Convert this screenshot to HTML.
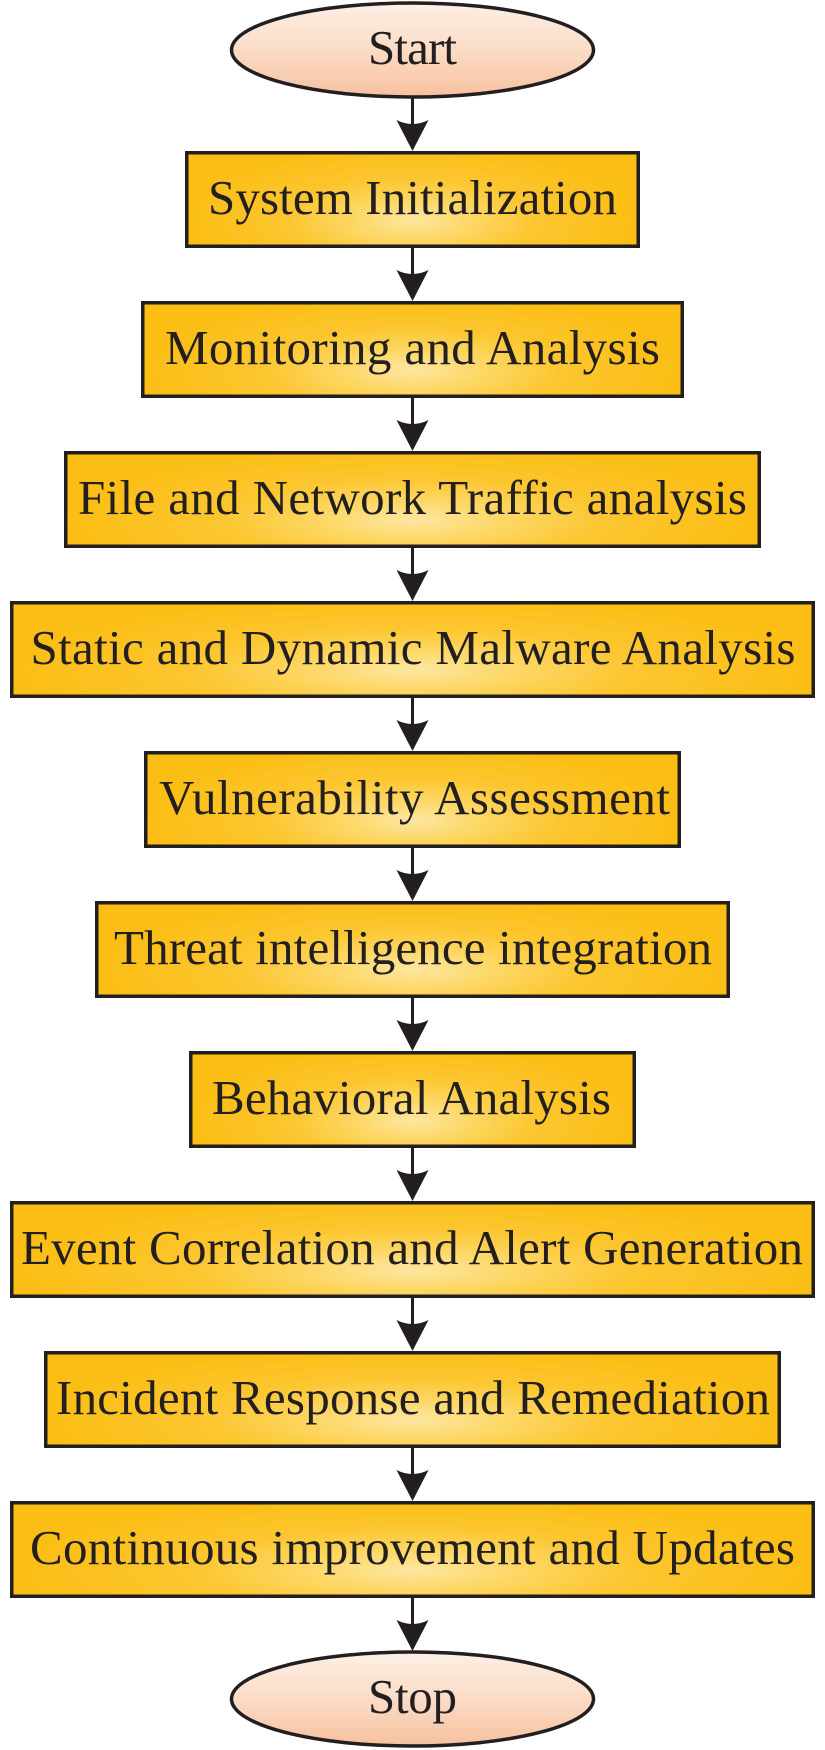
<!DOCTYPE html>
<html>
<head>
<meta charset="utf-8">
<style>
  html,body{margin:0;padding:0;background:#fff;}
  svg{display:block;}
  text{font-family:"Liberation Serif","Times New Roman",serif;font-size:49px;fill:#231f20;}
</style>
</head>
<body>
<svg width="825" height="1750" viewBox="0 0 825 1750" xmlns="http://www.w3.org/2000/svg">
  <defs>
    <radialGradient id="box" cx="0.5" cy="0.72" r="0.5" fx="0.5" fy="0.72" gradientTransform="matrix(1 0 0 1.6 0 -0.432)">
      <stop offset="0" stop-color="#fde6a2"/>
      <stop offset="0.25" stop-color="#fdd868"/>
      <stop offset="0.55" stop-color="#fcc630"/>
      <stop offset="1" stop-color="#fbbe14"/>
    </radialGradient>
    <linearGradient id="ell" x1="0" y1="0" x2="0" y2="1">
      <stop offset="0" stop-color="#fdefe6"/>
      <stop offset="0.5" stop-color="#fbdcc6"/>
      <stop offset="1" stop-color="#f6c19f"/>
    </linearGradient>
  </defs>

  <!-- Start -->
  <ellipse cx="412.5" cy="50" rx="181" ry="47" fill="url(#ell)" stroke="#231f20" stroke-width="3.5"/>
  <text x="412.5" y="64" text-anchor="middle" textLength="89" lengthAdjust="spacing">Start</text>

  <!-- Boxes -->
  <g stroke="#231f20" stroke-width="3.5" fill="url(#box)">
    <rect x="186.75" y="152.75" width="451.5" height="93.5"/>
    <rect x="142.75" y="302.75" width="539.5" height="93.5"/>
    <rect x="65.75" y="452.75" width="693.5" height="93.5"/>
    <rect x="11.75" y="602.75" width="801.5" height="93.5"/>
    <rect x="145.75" y="752.75" width="533.5" height="93.5"/>
    <rect x="96.75" y="902.75" width="631.5" height="93.5"/>
    <rect x="190.75" y="1052.75" width="443.5" height="93.5"/>
    <rect x="11.75" y="1202.75" width="801.5" height="93.5"/>
    <rect x="45.75" y="1352.75" width="733.5" height="93.5"/>
    <rect x="11.75" y="1502.75" width="801.5" height="93.5"/>
  </g>

  <g text-anchor="middle">
    <text x="412.5" y="214" textLength="409" lengthAdjust="spacing">System Initialization</text>
    <text x="412.5" y="364" textLength="495" lengthAdjust="spacing">Monitoring and Analysis</text>
    <text x="412.5" y="514" textLength="669" lengthAdjust="spacing">File and Network Traffic analysis</text>
    <text x="413" y="664" textLength="765" lengthAdjust="spacing">Static and Dynamic Malware Analysis</text>
    <text x="414.5" y="814" textLength="511" lengthAdjust="spacing">Vulnerability Assessment</text>
    <text x="413" y="964" textLength="598" lengthAdjust="spacing">Threat intelligence integration</text>
    <text x="411.5" y="1114" textLength="399" lengthAdjust="spacing">Behavioral Analysis</text>
    <text x="412" y="1264" textLength="782" lengthAdjust="spacing">Event Correlation and Alert Generation</text>
    <text x="413" y="1414" textLength="714" lengthAdjust="spacing">Incident Response and Remediation</text>
    <text x="412.5" y="1564" textLength="765" lengthAdjust="spacing">Continuous improvement and Updates</text>
  </g>

  <!-- Stop -->
  <ellipse cx="412.5" cy="1699" rx="181" ry="47" fill="url(#ell)" stroke="#231f20" stroke-width="3.5"/>
  <text x="412.5" y="1713" text-anchor="middle" textLength="89" lengthAdjust="spacing">Stop</text>

  <!-- Arrows -->
  <g stroke="#231f20" stroke-width="3">
    <line x1="412.5" y1="97" x2="412.5" y2="128"/>
    <line x1="412.5" y1="248" x2="412.5" y2="278"/>
    <line x1="412.5" y1="398" x2="412.5" y2="428"/>
    <line x1="412.5" y1="548" x2="412.5" y2="578"/>
    <line x1="412.5" y1="698" x2="412.5" y2="728"/>
    <line x1="412.5" y1="848" x2="412.5" y2="878"/>
    <line x1="412.5" y1="998" x2="412.5" y2="1028"/>
    <line x1="412.5" y1="1148" x2="412.5" y2="1178"/>
    <line x1="412.5" y1="1298" x2="412.5" y2="1328"/>
    <line x1="412.5" y1="1448" x2="412.5" y2="1478"/>
    <line x1="412.5" y1="1598" x2="412.5" y2="1628"/>
  </g>
  <g fill="#231f20">
    <path d="M412.5,151 L396.5,120 Q412.5,128 428.5,120 Z"/>
    <path d="M412.5,301 L396.5,270 Q412.5,278 428.5,270 Z"/>
    <path d="M412.5,451 L396.5,420 Q412.5,428 428.5,420 Z"/>
    <path d="M412.5,601 L396.5,570 Q412.5,578 428.5,570 Z"/>
    <path d="M412.5,751 L396.5,720 Q412.5,728 428.5,720 Z"/>
    <path d="M412.5,901 L396.5,870 Q412.5,878 428.5,870 Z"/>
    <path d="M412.5,1051 L396.5,1020 Q412.5,1028 428.5,1020 Z"/>
    <path d="M412.5,1201 L396.5,1170 Q412.5,1178 428.5,1170 Z"/>
    <path d="M412.5,1351 L396.5,1320 Q412.5,1328 428.5,1320 Z"/>
    <path d="M412.5,1501 L396.5,1470 Q412.5,1478 428.5,1470 Z"/>
    <path d="M412.5,1651 L396.5,1620 Q412.5,1628 428.5,1620 Z"/>
  </g>
</svg>
</body>
</html>
